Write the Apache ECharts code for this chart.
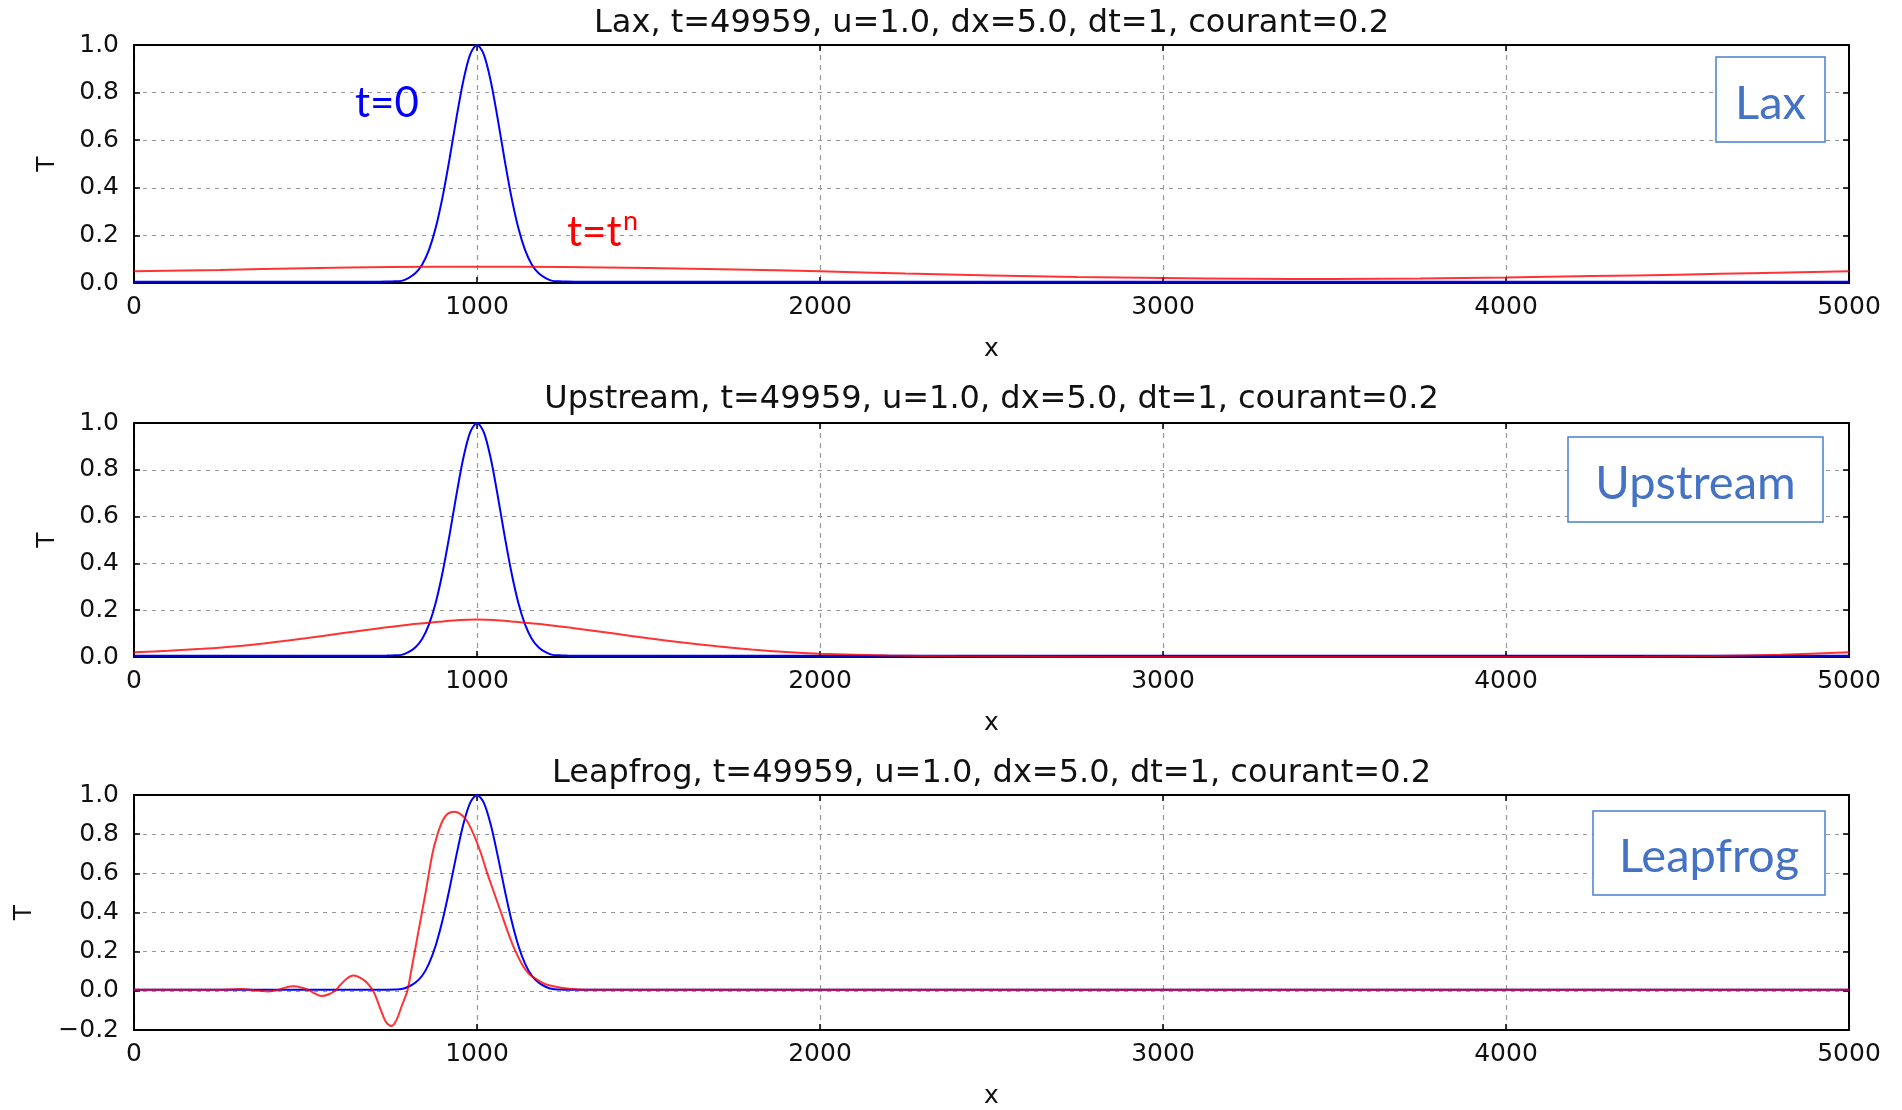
<!DOCTYPE html>
<html><head><meta charset="utf-8">
<script src="https://cdn.jsdelivr.net/npm/echarts@6/dist/echarts.min.js"></script>
<style>html,body{margin:0;padding:0;background:#fff}#c{width:1902px;height:1110px}</style>
</head><body><div id="c"></div>
<script>
// ---- data ----
const panelTitles = [
  'Lax, t=49959, u=1.0, dx=5.0, dt=1, courant=0.2',
  'Upstream, t=49959, u=1.0, dx=5.0, dt=1, courant=0.2',
  'Leapfrog, t=49959, u=1.0, dx=5.0, dt=1, courant=0.2'
];
const schemeNames = ['Lax', 'Upstream', 'Leapfrog'];
const xTickValues = [0, 1000, 2000, 3000, 4000, 5000];

// initial pulse t=0 (blue)
const xInit = [0, 700, 740, 760, 780, 800, 820, 840, 860, 880, 900, 920, 940, 960, 980, 1000,
  1020, 1040, 1060, 1080, 1100, 1120, 1140, 1160, 1180, 1200, 1220, 1240, 1260, 1300, 5000];
const tInit = [0.005, 0.005, 0.006, 0.007, 0.009, 0.021, 0.041, 0.077, 0.139, 0.234, 0.364, 0.522, 0.693,
  0.849, 0.96, 1.0, 0.96, 0.849, 0.693, 0.522, 0.364, 0.234, 0.139, 0.077, 0.041, 0.021, 0.009, 0.007,
  0.006, 0.005, 0.005];

// Lax scheme t=t^n (red)
const xLax = [0, 250, 500, 750, 1000, 1250, 1500, 1750, 2000, 2250, 2500, 2750, 3000, 3250, 3500,
  3750, 4000, 4250, 4500, 4750, 5000];
const tLax = [0.049, 0.055, 0.062, 0.067, 0.068, 0.067, 0.063, 0.057, 0.049, 0.040, 0.032, 0.025,
  0.021, 0.018, 0.017, 0.019, 0.023, 0.029, 0.035, 0.042, 0.049];

// Upstream scheme t=t^n (red)
const xUp = [0, 100, 200, 300, 400, 500, 600, 700, 800, 900, 950, 1000, 1050, 1100, 1200, 1300,
  1400, 1500, 1600, 1700, 1800, 1900, 2000, 2200, 2400, 2700, 3000, 4000, 4400, 4600, 4800, 5000];
const tUp = [0.02, 0.027, 0.035, 0.046, 0.062, 0.08, 0.1, 0.12, 0.138, 0.152, 0.158, 0.16, 0.158,
  0.152, 0.138, 0.12, 0.1, 0.08, 0.062, 0.046, 0.032, 0.021, 0.014, 0.006, 0.003, 0.001, 0.0,
  0.0, 0.001, 0.004, 0.01, 0.02];

// Leapfrog scheme t=t^n (red)
const xLeap = [0, 250, 280, 314, 360, 392, 420, 440, 464, 490, 510, 525, 546, 570, 588, 600, 620,
  640, 660, 680, 700, 720, 735, 750, 765, 780, 797, 810, 830, 850, 870, 885, 900, 915, 934, 950,
  970, 990, 1010, 1030, 1050, 1070, 1090, 1110, 1130, 1150, 1175, 1200, 1250, 1300, 1350, 5000];
const tLeap = [0.005, 0.005, 0.007, 0.009, 0.001, -0.003, 0.005, 0.016, 0.023, 0.016, 0.004, -0.012, -0.027, -0.016,
  0.003, 0.027, 0.062, 0.078, 0.066, 0.04, -0.01, -0.1, -0.16, -0.18, -0.15, -0.08, 0, 0.12, 0.31, 0.5,
  0.7, 0.8, 0.87, 0.905, 0.915, 0.905, 0.87, 0.8, 0.71, 0.6, 0.5, 0.4, 0.3, 0.21, 0.14, 0.09, 0.057,
  0.034, 0.014, 0.007, 0.005, 0.005];

const redSets = [[xLax, tLax], [xUp, tUp], [xLeap, tLeap]];
const yMins = [0, 0, -0.2];

// ---- layout ----
const PL = 134, PR = 53;
const panels = [{top: 45, height: 238, tGap: 74}, {top: 423, height: 234, tGap: 74}, {top: 795, height: 238, tGap: 97}];
const FONT = '"DejaVu Sans", sans-serif';
const pair = (xs, ys) => xs.map((x, i) => [x, ys[i]]);
const fmtY = v => (v < -1e-9 ? '\u2212' : '') + Math.abs(v).toFixed(1);
const fmtX = v => String(Math.round(v));

const grid = [], xAxis = [], yAxis = [], series = [];
panels.forEach((p, i) => {
  grid.push({left: PL, right: PR, top: p.top, height: p.height, containLabel: false});
  const frame = {onZero: false, lineStyle: {color: '#000', width: 2}};
  const tick = {show: true, inside: true, length: 6, lineStyle: {color: '#000', width: 1.5}};
  xAxis.push({
    gridIndex: i, type: 'value', min: 0, max: 5000, interval: 1000, position: 'bottom',
    axisLine: frame, axisTick: tick,
    axisLabel: {margin: 12, color: '#111', fontSize: 25, fontFamily: FONT, formatter: fmtX},
    splitLine: {show: true, lineStyle: {color: '#999', type: [5, 5], width: 1.2}},
    name: 'x', nameLocation: 'middle', nameGap: 54,
    nameTextStyle: {color: '#111', fontSize: 25, fontFamily: FONT}
  });
  xAxis.push({
    gridIndex: i, type: 'value', min: 0, max: 5000, interval: 1000, position: 'top',
    axisLine: frame, axisTick: tick, axisLabel: {show: false}, splitLine: {show: false}
  });
  yAxis.push({
    gridIndex: i, type: 'value', min: yMins[i], max: 1, interval: 0.2, position: 'left',
    axisLine: frame, axisTick: tick,
    axisLabel: {margin: 15, color: '#111', fontSize: 25, fontFamily: FONT, formatter: fmtY},
    splitLine: {show: true, lineStyle: {color: '#999', type: [4, 5], width: 1.2}},
    name: 'T', nameLocation: 'middle', nameGap: p.tGap, nameRotate: 90,
    nameTextStyle: {color: '#111', fontSize: 25, fontFamily: FONT}
  });
  yAxis.push({
    gridIndex: i, type: 'value', min: yMins[i], max: 1, interval: 0.2, position: 'right',
    axisLine: frame, axisTick: tick, axisLabel: {show: false}, splitLine: {show: false}
  });
  series.push({
    type: 'line', xAxisIndex: 2 * i, yAxisIndex: 2 * i, data: pair(xInit, tInit),
    showSymbol: false, smooth: 0.3, lineStyle: {color: '#0000ff', width: 2}, z: 3
  });
  series.push({
    type: 'line', xAxisIndex: 2 * i, yAxisIndex: 2 * i, data: pair(redSets[i][0], redSets[i][1]),
    showSymbol: false, smooth: 0.3, lineStyle: {color: '#ff0000', width: 2, opacity: 0.8}, z: 4
  });
});

const titleYs = [24, 400, 774];
const boxes = [
  {x: 1716, y: 57, w: 109, h: 85},
  {x: 1568, y: 437, w: 255, h: 85},
  {x: 1593, y: 811, w: 232, h: 84}
];
const graphic = [];
panelTitles.forEach((t, i) => {
  graphic.push({type: 'text', x: (PL + 1902 - PR) / 2, y: titleYs[i], z: 100,
    style: {text: t, fill: '#111', font: '32px ' + FONT, align: 'center', verticalAlign: 'middle',
      textAlign: 'center', textVerticalAlign: 'middle'}});
});
boxes.forEach((b, i) => {
  graphic.push({type: 'rect', z: 100, shape: {x: b.x, y: b.y, width: b.w, height: b.h},
    style: {fill: '#fff', stroke: '#4a7fd2', lineWidth: 1.5}});
  graphic.push({type: 'text', z: 101, x: b.x + b.w / 2, y: b.y + b.h / 2 + 4,
    style: {text: schemeNames[i], fill: '#4472c4', font: '47px Lato, "Noto Sans", sans-serif',
      align: 'center', verticalAlign: 'middle', textAlign: 'center', textVerticalAlign: 'middle'}});
});
graphic.push({type: 'text', z: 101, x: 355, y: 103,
  style: {text: 't=0', fill: '#0000ff', font: '42px Lato, "Noto Sans", sans-serif',
    align: 'left', verticalAlign: 'middle', textAlign: 'left', textVerticalAlign: 'middle'}});
graphic.push({type: 'text', z: 101, x: 567, y: 232,
  style: {text: 't=t', fill: '#ff0000', font: '42px Lato, "Noto Sans", sans-serif',
    align: 'left', verticalAlign: 'middle', textAlign: 'left', textVerticalAlign: 'middle'}});
graphic.push({type: 'text', z: 101, x: 623, y: 221,
  style: {text: 'n', fill: '#ff0000', font: '27px Lato, "Noto Sans", sans-serif',
    align: 'left', verticalAlign: 'middle', textAlign: 'left', textVerticalAlign: 'middle'}});

const chart = echarts.init(document.getElementById('c'), null, {renderer: 'canvas'});
chart.setOption({
  animation: false, backgroundColor: '#fff',
  grid, xAxis, yAxis, series, graphic
});
</script></body></html>
